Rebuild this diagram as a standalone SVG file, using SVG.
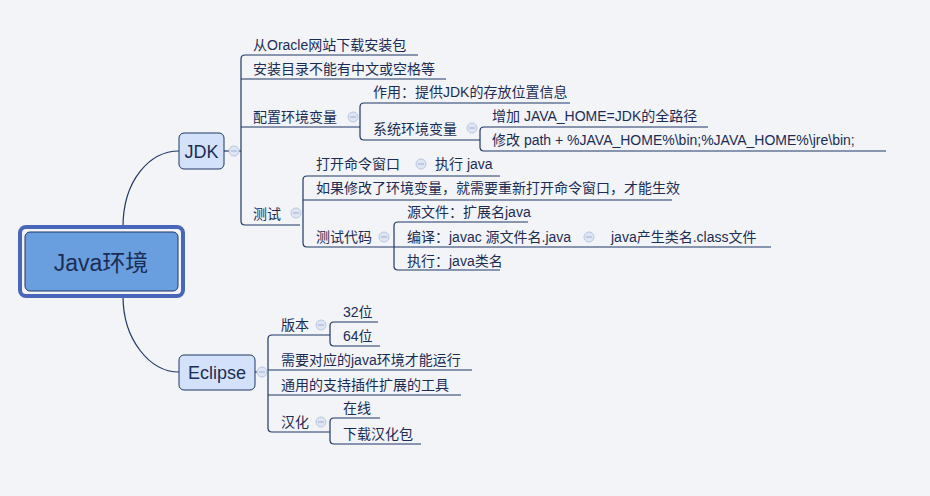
<svg xmlns="http://www.w3.org/2000/svg" width="930" height="496" viewBox="0 0 930 496">
<style>
text{font-family:"Liberation Sans","Noto Sans CJK SC",sans-serif;font-size:14px;fill:#1b2d55}
.l{fill:none;stroke:#1f3766;stroke-width:1.2}
.c{fill:#dfe6f3;stroke:#b9c7e0;stroke-width:1}
.m{stroke:#a9b8d6;stroke-width:1.2}
</style>
<rect width="930" height="496" fill="#f2f4f8"/>
<g id="connectors">
<path class="l" d="M123,227 C123,180 150,151 179,151"/>
<path class="l" d="M123,296 C123,340 150,372 179,372"/>
<path class="l" d="M224,151 H241"/>
<path class="l" d="M418,55 H245 Q241,55 241,59 V221 Q241,225 245,225 H300"/>
<path class="l" d="M241,79 H446 M241,127 H360 M241,151 H241"/>
<path class="l" d="M570,103 H364 Q360,103 360,107 V136 Q360,140 364,140 H480"/>
<path class="l" d="M708,127 H484 Q480,127 480,131 V147 Q480,151 484,151 H886"/>
<path class="l" d="M500,176 H307 Q303,176 303,180 V243 Q303,247 307,247 H394 M303,200 H672"/>
<path class="l" d="M528,222 H398 Q394,222 394,226 V266 Q394,270 398,270 H500 M394,247 H771"/>
<path class="l" d="M255,372 H268"/>
<path class="l" d="M330,335 H272 Q268,335 268,339 V428 Q268,432 272,432 H330 M268,370 H472 M268,395 H461"/>
<path class="l" d="M378,322 H334 Q330,322 330,326 V342 Q330,346 334,346 H380"/>
<path class="l" d="M380,418 H334 Q330,418 330,422 V440 Q330,444 334,444 H421"/>
</g>
<g id="center">
<rect x="20" y="227" width="163" height="69" rx="6" fill="#f2f4f8" stroke="#4a66b8" stroke-width="4"/>
<rect x="25" y="232" width="153" height="59" rx="5" fill="#6a9fdf" stroke="#1f3766" stroke-width="1"/>
<text x="101" y="271" text-anchor="middle" style="font-size:23px">Java环境</text>
</g>
<g id="jdk">
<rect x="179" y="133" width="45" height="36" rx="5" fill="#d3e2fa" stroke="#1f3766"/>
<text x="201.500" y="158" text-anchor="middle" style="font-size:18px">JDK</text>
<circle class="c" cx="234" cy="151" r="5"/><path class="m" d="M231,151h6"/>
</g>
<g id="eclipse">
<rect x="179" y="355" width="76" height="35" rx="5" fill="#d3e2fa" stroke="#1f3766"/>
<text x="217" y="379" text-anchor="middle" style="font-size:18px">Eclipse</text>
<circle class="c" cx="262" cy="372" r="5"/><path class="m" d="M259,372h6"/>
</g>
<g id="n-oracle"><text x="253" y="50">从Oracle网站下载安装包</text></g>
<g id="n-dir"><text x="253" y="74">安装目录不能有中文或空格等</text></g>
<g id="n-env"><text x="253" y="122">配置环境变量</text><circle class="c" cx="353" cy="117" r="5"/><path class="m" d="M350,117h6"/></g>
<g id="n-role"><text x="373" y="97">作用：提供JDK的存放位置信息</text></g>
<g id="n-sys"><text x="373" y="134">系统环境变量</text><circle class="c" cx="472" cy="128" r="5"/><path class="m" d="M469,128h6"/></g>
<g id="n-add"><text x="492" y="121">增加  JAVA_HOME=JDK的全路径</text></g>
<g id="n-path"><text x="492" y="145">修改 path + %JAVA_HOME%\bin;%JAVA_HOME%\jre\bin;</text></g>
<g id="n-test"><text x="253" y="219">测试</text><circle class="c" cx="296" cy="213" r="5"/><path class="m" d="M293,213h6"/></g>
<g id="n-cmd"><text x="316" y="169">打开命令窗口</text><circle class="c" cx="421" cy="164" r="5"/><path class="m" d="M418,164h6"/></g>
<g id="n-exec"><text x="435" y="169">执行 java</text></g>
<g id="n-reopen"><text x="316" y="193">如果修改了环境变量，就需要重新打开命令窗口，才能生效</text></g>
<g id="n-code"><text x="316" y="242">测试代码</text><circle class="c" cx="384" cy="237" r="5"/><path class="m" d="M381,237h6"/></g>
<g id="n-src"><text x="407" y="217">源文件：扩展名java</text></g>
<g id="n-compile"><text x="407" y="242">编译：javac 源文件名.java</text><circle class="c" cx="589" cy="237" r="5"/><path class="m" d="M586,237h6"/></g>
<g id="n-class"><text x="611" y="242">java产生类名.class文件</text></g>
<g id="n-run"><text x="407" y="266">执行：java类名</text></g>
<g id="n-ver"><text x="281" y="330">版本</text><circle class="c" cx="321" cy="325" r="5"/><path class="m" d="M318,325h6"/></g>
<g id="n-32"><text x="343" y="317">32位</text></g>
<g id="n-64"><text x="343" y="341">64位</text></g>
<g id="n-need"><text x="281" y="365">需要对应的java环境才能运行</text></g>
<g id="n-plugin"><text x="281" y="390">通用的支持插件扩展的工具</text></g>
<g id="n-cn"><text x="281" y="427">汉化</text><circle class="c" cx="321" cy="422" r="5"/><path class="m" d="M318,422h6"/></g>
<g id="n-online"><text x="343" y="413">在线</text></g>
<g id="n-dl"><text x="343" y="439">下载汉化包</text></g>
</svg>
